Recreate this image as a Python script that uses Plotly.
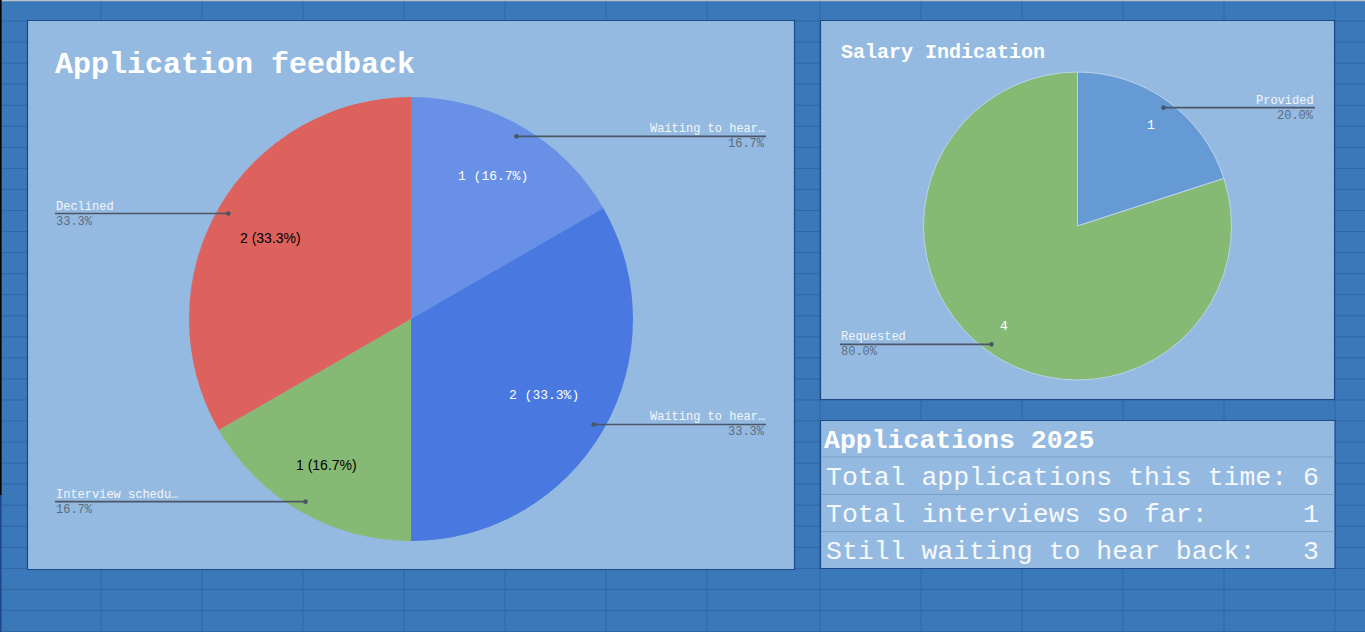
import math
import plotly.graph_objects as go

# ---------------- data ----------------
feedback_labels = ["Waiting to hear back (applied)", "Waiting to hear back (screened)",
                   "Interview scheduled", "Declined"]
feedback_display = ["Waiting to hear…", "Waiting to hear…", "Interview schedu…", "Declined"]
feedback_values = [1, 2, 1, 2]

salary_labels = ["Provided", "Requested"]
salary_values = [1, 4]

table_title = "Applications 2025"
table_rows = ["Total applications this time:", "Total interviews so far:",
              "Still waiting to hear back:"]
table_values = [6, 1, 3]

# ---------------- style ----------------
W, H = 1365, 632
MONO = "Courier New, Liberation Mono, monospace"
SANS = "Arial, Liberation Sans, sans-serif"
GRID_BG = "#3A78BA"
GRID_LINE = "#2F66A6"
PANEL_BG = "#95BAE2"
PANEL_BORDER = "#1D4A86"
LEADER = "#4A5566"
NAME_COL = "#F3F6FB"
PCT_COL = "#5D6B7B"

feedback_colors = ["#6790E6", "#4878E0", "#86BA74", "#DD625D"]
feedback_txtcol = ["white", "white", "black", "black"]
feedback_txtfont = [MONO, MONO, SANS, SANS]
feedback_txtsize = [13, 13, 14, 14]
feedback_txtk = [0.74, 0.69, 0.76, 0.73]
salary_colors = ["#669AD4", "#86BA74"]


def px(x):
    return x / W


def py(y):
    return 1 - y / H


fig = go.Figure()
shapes = []
annots = []

# spreadsheet grid background
col_lines = [101, 202, 303, 404, 505, 606, 707, 820, 921, 1022, 1123, 1224, 1335]
for cx in col_lines:
    shapes.append(dict(type="line", xref="paper", yref="paper", x0=px(cx), x1=px(cx),
                       y0=0, y1=1, line=dict(color=GRID_LINE, width=1), layer="below"))
k = 1
while k * 21.05 < H:
    yy = k * 21.05
    shapes.append(dict(type="line", xref="paper", yref="paper", x0=0, x1=1,
                       y0=py(yy), y1=py(yy), line=dict(color=GRID_LINE, width=1), layer="below"))
    k += 1
shapes.append(dict(type="line", xref="paper", yref="paper", x0=0, x1=1, y0=py(0.5), y1=py(0.5),
                   line=dict(color="#B9C0C8", width=1.5), layer="below"))
shapes.append(dict(type="line", xref="paper", yref="paper", x0=px(0.8), x1=px(0.8), y0=py(0), y1=py(495),
                   line=dict(color="#000000", width=1.6), layer="below"))
shapes.append(dict(type="line", xref="paper", yref="paper", x0=px(0.8), x1=px(0.8), y0=py(495), y1=py(632),
                   line=dict(color=PANEL_BORDER, width=1.6), layer="below"))

# panels
panels = [(27.5, 20.5, 794.5, 569.5), (820.5, 20.5, 1334.5, 399.5), (820.5, 420.5, 1335, 568.5)]
for (x0, y0, x1, y1) in panels:
    shapes.append(dict(type="rect", xref="paper", yref="paper", x0=px(x0), x1=px(x1),
                       y0=py(y0), y1=py(y1), fillcolor=PANEL_BG,
                       line=dict(color=PANEL_BORDER, width=1.2), layer="below"))


def txt(x, y, text, xa, ya, family, size, color):
    return dict(xref="paper", yref="paper", x=px(x), y=py(y), xanchor=xa, yanchor=ya,
                text=text, showarrow=False, borderpad=0,
                font=dict(family=family, size=size, color=color))


# ---------------- pies ----------------
def add_pie(labels, values, colors, cx, cy, r, line_col, line_w):
    fig.add_trace(go.Pie(
        labels=labels, values=values, sort=False, direction="clockwise", rotation=0,
        marker=dict(colors=colors, line=dict(color=line_col, width=line_w)),
        textinfo="none", hoverinfo="skip", showlegend=False,
        domain=dict(x=[px(cx - r), px(cx + r)], y=[py(cy + r), py(cy - r)]),
    ))


def slice_points(values, cx, cy, r, kfracs):
    tot = sum(values)
    out = []
    cum = 0
    for v, kf in zip(values, kfracs):
        mid = (cum + v / 2) / tot * 2 * math.pi
        cum += v
        out.append((cx + kf * r * math.sin(mid), cy - kf * r * math.cos(mid), math.sin(mid)))
    return out


def add_callouts(display, values, cx, cy, r, x_left, x_right, name_size=12):
    tot = sum(values)
    for (dx, dy, s), name, v in zip(slice_points(values, cx, cy, r, [0.95] * len(values)),
                                    display, values):
        xe = x_right if s > 0 else x_left
        shapes.append(dict(type="line", xref="paper", yref="paper", x0=px(dx), x1=px(xe),
                           y0=py(dy), y1=py(dy), line=dict(color=LEADER, width=1.6), layer="above"))
        shapes.append(dict(type="circle", xref="paper", yref="paper", x0=px(dx - 2.3), x1=px(dx + 2.3),
                           y0=py(dy + 2.3), y1=py(dy - 2.3), fillcolor=LEADER,
                           line=dict(width=0), layer="above"))
        anch = "right" if s > 0 else "left"
        annots.append(txt(xe, dy - 7, name, anch, "middle", MONO, name_size, NAME_COL))
        annots.append(txt(xe, dy + 8, f"{100 * v / tot:.1f}%", anch, "middle", MONO, name_size, PCT_COL))


# left pie: Application feedback
L_CX, L_CY, L_R = 411, 319, 222
add_pie(feedback_labels, feedback_values, feedback_colors, L_CX, L_CY, L_R, PANEL_BG, 0)
tot = sum(feedback_values)
for (tx, ty, s), v, col, fam, sz in zip(slice_points(feedback_values, L_CX, L_CY, L_R, feedback_txtk),
                                        feedback_values, feedback_txtcol, feedback_txtfont,
                                        feedback_txtsize):
    annots.append(txt(tx, ty, f"{v} ({100 * v / tot:.1f}%)", "center", "middle", fam, sz, col))
add_callouts(feedback_display, feedback_values, L_CX, L_CY, L_R, 55, 766)

# right pie: Salary Indication
R_CX, R_CY, R_R = 1077.5, 226, 154
add_pie(salary_labels, salary_values, salary_colors, R_CX, R_CY, R_R, "#BCD3EC", 1)
for (tx, ty, s), v in zip(slice_points(salary_values, R_CX, R_CY, R_R, [0.81, 0.81]), salary_values):
    annots.append(txt(tx, ty, str(v), "center", "middle", MONO, 13, "white"))
add_callouts(salary_labels, salary_values, R_CX, R_CY, R_R, 840, 1315)

# titles
annots.append(txt(54, 65, "<b>Application feedback</b>", "left", "middle", MONO, 30, "white"))
annots.append(txt(840, 52, "<b>Salary Indication</b>", "left", "middle", MONO, 20, "white"))

# ---------------- table ----------------
row_edges = [420.5, 457, 494.5, 531.5, 568.5]
for yy in row_edges[1:-1]:
    shapes.append(dict(type="line", xref="paper", yref="paper", x0=px(821), x1=px(1334.5),
                       y0=py(yy), y1=py(yy), line=dict(color="#7D9FC6", width=1.2), layer="below"))
annots.append(txt(823, (row_edges[0] + row_edges[1]) / 2 + 2, f"<b>{table_title}</b>",
                  "left", "middle", MONO, 26.5, "white"))
for i, (lab, val) in enumerate(zip(table_rows, table_values)):
    yc = (row_edges[i + 1] + row_edges[i + 2]) / 2 + 2
    annots.append(txt(825, yc, lab, "left", "middle", MONO, 26.5, "#F5F8FC"))
    annots.append(txt(1320, yc, str(val), "right", "middle", MONO, 26.5, "#F5F8FC"))

fig.update_layout(
    width=W, height=H, margin=dict(l=0, r=0, t=0, b=0, pad=0),
    paper_bgcolor=GRID_BG, plot_bgcolor=GRID_BG,
    shapes=shapes, annotations=annots, showlegend=False,
)
fig.write_html("out.html", config=dict(displayModeBar=False))
